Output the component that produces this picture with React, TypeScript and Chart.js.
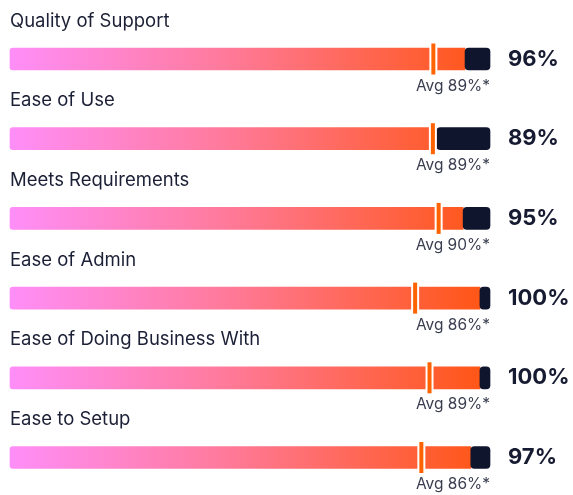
import React, { useEffect, useRef } from "react";
import { Chart, registerables } from "chart.js";

Chart.register(...registerables);

const categories = [
  "Quality of Support",
  "Ease of Use",
  "Meets Requirements",
  "Ease of Admin",
  "Ease of Doing Business With",
  "Ease to Setup",
];
const scoreLabels = ["96%", "89%", "95%", "100%", "100%", "97%"];
const avgLabels = ["Avg 89%*", "Avg 89%*", "Avg 90%*", "Avg 86%*", "Avg 89%*", "Avg 86%*"];
// where the gradient fill ends (dark block starts)
const fillValues = [94.8, 88.9, 94.4, 97.9, 97.9, 96.0];
// position of the average marker
const avgMarkers = [88.2, 88.1, 89.3, 84.4, 87.4, 85.7];

const textPlugin = {
  id: "rowText",
  afterDraw(chart: any) {
    const { ctx } = chart;
    const xs = chart.scales.x;
    const ys = chart.scales.y;
    ctx.save();
    categories.forEach((cat, i) => {
      const y = ys.getPixelForValue(i);
      ctx.textBaseline = "middle";
      ctx.fillStyle = "#1c2036";
      ctx.font = "18.5px Inter";
      ctx.textAlign = "left";
      ctx.fillText(cat, xs.left, y - 38);
      ctx.font = "bold 22px Inter";
      ctx.fillStyle = "#171b31";
      ctx.fillText(scoreLabels[i], xs.right + 18, y);
      ctx.font = "15.5px Inter";
      ctx.fillStyle = "#3a3e50";
      ctx.textAlign = "right";
      ctx.fillText(avgLabels[i], xs.getPixelForValue(100), y + 27);
    });
    ctx.restore();
  },
};

export default function App() {
  const ref = useRef<HTMLCanvasElement>(null);
  useEffect(() => {
    const gradient = (c: any) => {
      const { chart } = c;
      const area = chart.chartArea;
      if (!area) return "#ff7386";
      const g = chart.ctx.createLinearGradient(area.left, 0, area.right, 0);
      g.addColorStop(0, "#ff8ef8");
      g.addColorStop(0.45, "#ff7a9a");
      g.addColorStop(1, "#ff5512");
      return g;
    };
    const chart = new Chart(ref.current!, {
      type: "bar",
      data: {
        labels: categories,
        datasets: [
          {
            type: "line",
            data: avgMarkers,
            showLine: false,
            pointStyle: "line",
            pointRadius: 15.5,
            pointRotation: 90,
            pointBorderWidth: 4,
            pointBorderColor: "#ff6200",
            pointBackgroundColor: "#ff6200",
            clip: false,
            order: 0,
          } as any,
          {
            type: "line",
            data: avgMarkers,
            showLine: false,
            pointStyle: "line",
            pointRadius: 15.5,
            pointRotation: 90,
            pointBorderWidth: 8,
            pointBorderColor: "#ffffff",
            pointBackgroundColor: "#ffffff",
            clip: false,
            order: 1,
          } as any,
          {
            data: fillValues.map((v) => [v, 100]),
            backgroundColor: "#10152e",
            borderSkipped: false,
            borderRadius: { topLeft: 4, topRight: 4, bottomLeft: 4, bottomRight: 4 },
            barThickness: 22,
            grouped: false,
            clip: false,
            order: 2,
          } as any,
          {
            data: fillValues,
            backgroundColor: gradient,
            borderSkipped: false,
            borderRadius: { topLeft: 3, bottomLeft: 3, topRight: 0, bottomRight: 0 },
            barThickness: 22,
            grouped: false,
            clip: false,
            order: 3,
          } as any,
        ],
      },
      options: {
        indexAxis: "y",
        animation: false,
        responsive: true,
        maintainAspectRatio: false,
        events: [],
        layout: { autoPadding: false, padding: { left: 10, right: 83, top: 59, bottom: 37.5 } },
        plugins: { legend: { display: false }, tooltip: { enabled: false } },
        scales: {
          x: { min: 0, max: 100, display: false },
          y: { display: false, offset: false },
        },
      },
      plugins: [textPlugin],
    } as any);
    return () => chart.destroy();
  }, []);
  return (
    <div style={{ position: "fixed", left: 0, top: 0, width: 573, height: 495, background: "#fff" }}>
      <canvas ref={ref} />
    </div>
  );
}
